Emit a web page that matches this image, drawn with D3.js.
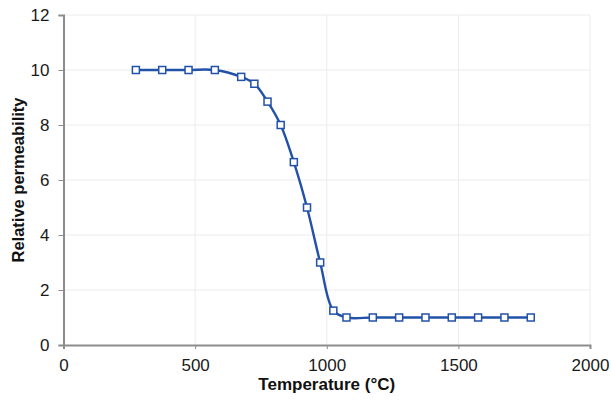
<!DOCTYPE html>
<html>
<head>
<meta charset="utf-8">
<script src="https://cdn.jsdelivr.net/npm/d3@7"></script>
<style>
  html, body { margin: 0; padding: 0; background: #fff; }
  svg { display: block; font-family: Arial, "Liberation Sans", sans-serif; }
</style>
</head>
<body>
<svg id="chart" width="611" height="402"></svg>
<script>
// Relative permeability vs temperature
const temperature = [275, 375, 475, 575, 675, 725, 775, 825, 875, 925, 975, 1025, 1075, 1175, 1275, 1375, 1475, 1575, 1675, 1775];
const permeability = [10, 10, 10, 10, 9.75, 9.5, 8.85, 8.0, 6.65, 5.0, 3.0, 1.25, 1.0, 1.0, 1.0, 1.0, 1.0, 1.0, 1.0, 1.0];
const xTicks = [0, 500, 1000, 1500, 2000];
const yTicks = [0, 2, 4, 6, 8, 10, 12];
const xTitle = "Temperature (°C)";
const yTitle = "Relative permeability";

const svg = d3.select("#chart");
const margin = { left: 63.5, right: 21, top: 15, bottom: 57 };
const W = 611, H = 402;

const x = d3.scaleLinear().domain([0, 2000]).range([margin.left, W - margin.right]);
const y = d3.scaleLinear().domain([0, 12]).range([H - margin.bottom, margin.top]);

// grid
svg.append("g").selectAll("line").data(yTicks.filter(d => d > 0)).join("line")
  .attr("x1", x(0)).attr("x2", x(2000))
  .attr("y1", d => y(d)).attr("y2", d => y(d))
  .attr("stroke", "#ececec").attr("stroke-width", 1);
svg.append("g").selectAll("line").data(xTicks.filter(d => d > 0)).join("line")
  .attr("x1", d => x(d)).attr("x2", d => x(d))
  .attr("y1", y(0)).attr("y2", y(12))
  .attr("stroke", "#ececec").attr("stroke-width", 1);

// axes
const fmt = d3.format("d");
const xAxis = svg.append("g").attr("transform", `translate(0,${y(0)})`)
  .call(d3.axisBottom(x).tickValues(xTicks).tickFormat(fmt).tickSize(4).tickPadding(10));
const yAxis = svg.append("g").attr("transform", `translate(${x(0)},0)`)
  .call(d3.axisLeft(y).tickValues(yTicks).tickFormat(fmt).tickSize(5).tickPadding(9));
[xAxis, yAxis].forEach(g => {
  g.attr("font-size", null).attr("font-family", null);
  g.select(".domain").attr("stroke", "#8c8c8c").attr("stroke-width", 2);
  g.selectAll(".tick line").attr("stroke", "#8c8c8c");
  g.selectAll(".tick text").attr("fill", "#1a1a1a")
    .style("font-size", "17px")
    .style("font-family", "Arial, 'Liberation Sans', sans-serif");
});

// titles
svg.append("text").attr("x", x(1000)).attr("y", 390)
  .attr("text-anchor", "middle").style("font-size", "17px").attr("font-weight", "bold")
  .attr("fill", "#111").text(xTitle);
svg.append("text").attr("transform", `translate(24,${y(6)}) rotate(-90)`)
  .attr("text-anchor", "middle").style("font-size", "16.5px").attr("font-weight", "bold")
  .attr("fill", "#111").text(yTitle);

// series
const pts = temperature.map((t, i) => [t, permeability[i]]);
const line = d3.line().x(d => x(d[0])).y(d => y(d[1])).curve(d3.curveCatmullRom.alpha(0.5));
const blue = "#2251a8";
svg.append("path").datum(pts).attr("d", line)
  .attr("fill", "none").attr("stroke", blue).attr("stroke-width", 2.4);
svg.append("g").selectAll("rect").data(pts).join("rect")
  .attr("x", d => x(d[0]) - 3.5).attr("y", d => y(d[1]) - 3.5)
  .attr("width", 7).attr("height", 7)
  .attr("fill", "#fff").attr("stroke", blue).attr("stroke-width", 1.5);
</script>
</body>
</html>
